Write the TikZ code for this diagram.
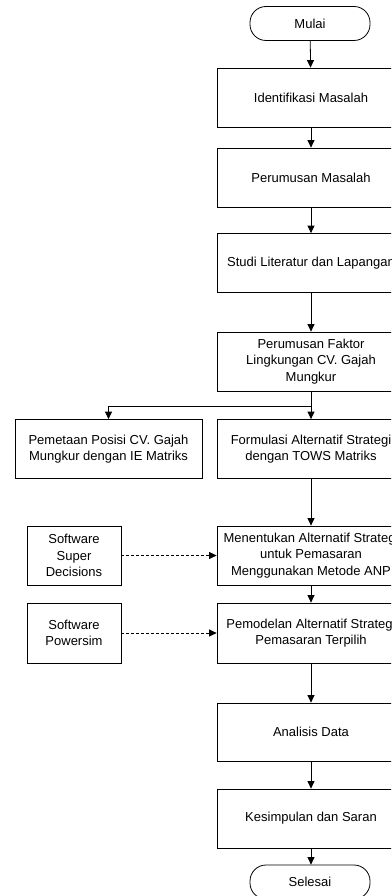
\documentclass[tikz,border=0pt]{standalone}
\usepackage{fontspec}
\setmainfont{Liberation Sans}
\usetikzlibrary{arrows.meta}
\begin{document}
\begin{tikzpicture}[x=1pt,y=-1pt,
  base/.style={draw, line width=0.8pt, align=center, inner sep=0pt, font=\fontsize{13}{16.5}\selectfont},
  box/.style={base, minimum width=188pt, minimum height=59pt},
  sidebox/.style={base, minimum width=94pt, minimum height=59pt},
  term/.style={base, minimum width=120pt, minimum height=34pt, rounded corners=16pt},
  arr/.style={line width=0.8pt, -{Triangle[length=7.5pt,width=7pt]}},
  darr/.style={arr, dashed, dash pattern=on 3pt off 2pt}
]
\useasboundingbox (0,0) rectangle (391,896);
\clip (0,0) rectangle (391,896);

\node[term] (start) at (310,23.5) {Mulai};
\node[box] (id) at (311,97.5) {Identifikasi Masalah};
\node[box] (pm) at (311,177.5) {Perumusan Masalah};
\node[box] (sl) at (311,263) {Studi Literatur dan Lapangan};
\node[box] (pf) at (311,361.5) {Perumusan Faktor\\Lingkungan CV. Gajah\\Mungkur};
\node[box, minimum width=187pt] (pem) at (108.5,449) {Pemetaan Posisi CV. Gajah\\Mungkur dengan IE Matriks};
\node[box] (form) at (311,449) {Formulasi Alternatif Strategi\\dengan TOWS Matriks};
\node[box] (men) at (311,555.5) {Menentukan Alternatif Strategi\\untuk Pemasaran\\Menggunakan Metode ANP};
\node[sidebox] (ssd) at (74,555.5) {Software\\Super\\Decisions};
\node[box, minimum height=60pt] (pemod) at (311,633) {Pemodelan Alternatif Strategi\\Pemasaran Terpilih};
\node[sidebox, minimum height=60pt] (pws) at (74,633) {Software\\Powersim};
\node[box, minimum height=58pt] (an) at (311,732) {Analisis Data};
\node[box] (ks) at (311,818.5) {Kesimpulan dan Saran};
\node[term] (end) at (310,882) {Selesai};

\coordinate (br) at (311,406);

\draw[arr] (start) -- (id);
\draw[arr] (id) -- (pm);
\draw[arr] (pm) -- (sl);
\draw[arr] (sl) -- (pf);
\draw[arr] (pf) -- (form);
\draw[arr] (br) -| (pem);
\draw[arr] (form) -- (men);
\draw[arr] (men) -- (pemod);
\draw[arr] (pemod) -- (an);
\draw[arr] (an) -- (ks);
\draw[arr] (ks.south) -- (ks.south |- end.north);
\draw[darr] (ssd) -- (men);
\draw[darr] (pws) -- (pemod);
\end{tikzpicture}
\end{document}
